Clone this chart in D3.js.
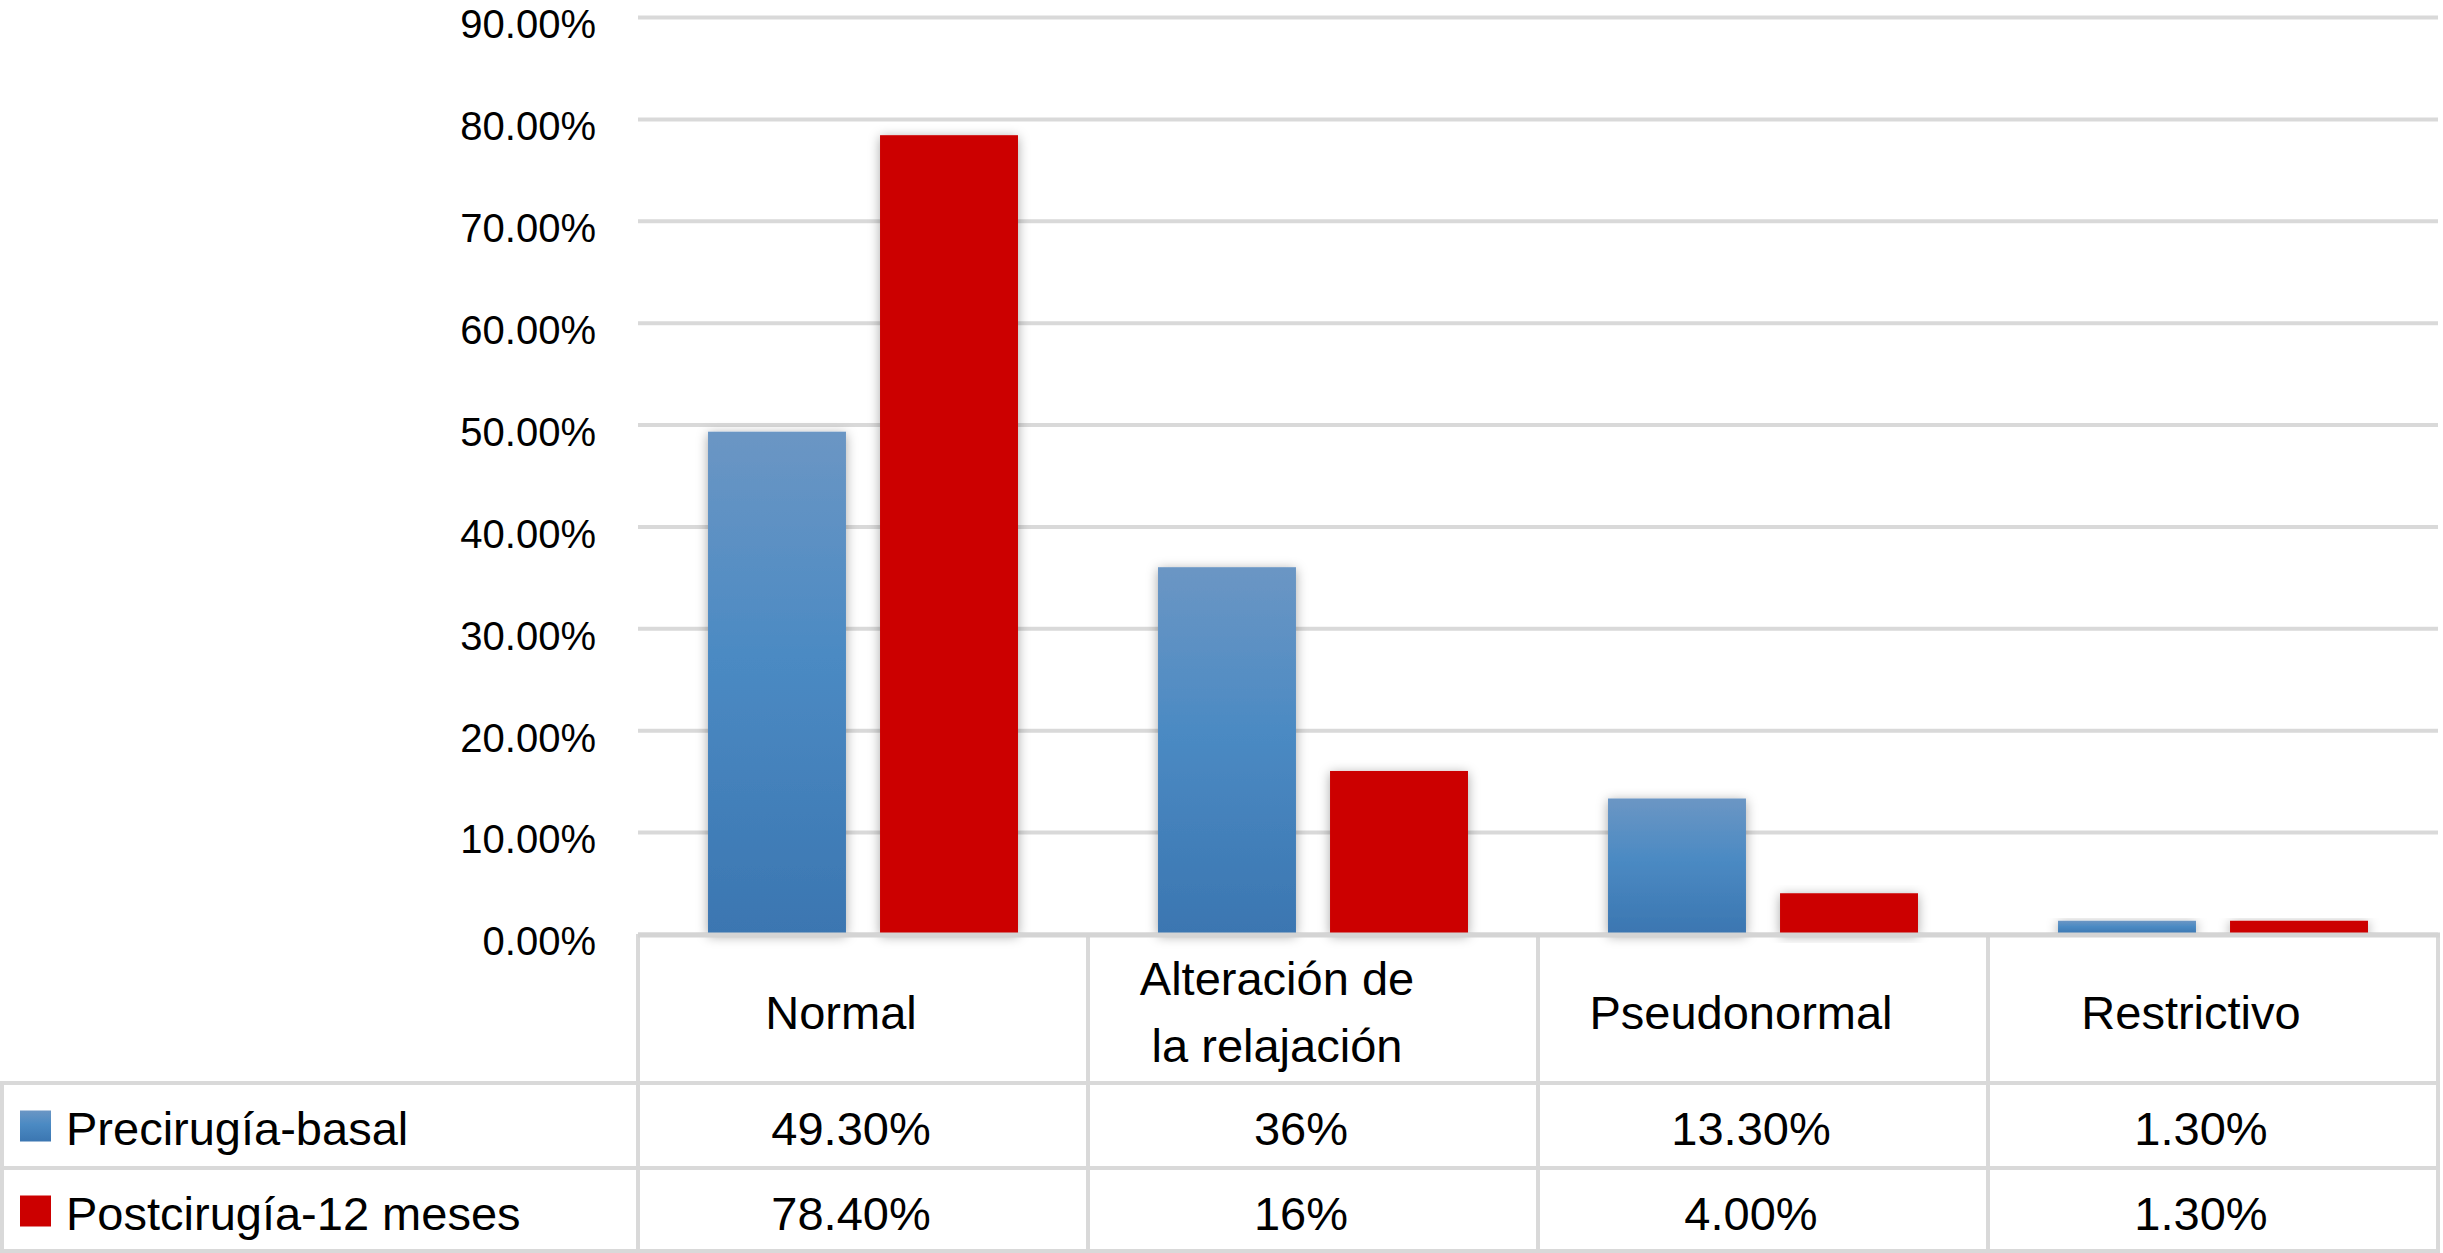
<!DOCTYPE html>
<html>
<head>
<meta charset="utf-8">
<script src="https://cdn.jsdelivr.net/npm/d3@7"></script>
<style>
    body { margin: 0; background: #fff; }
    text { font-family: "Liberation Sans", Arial, Helvetica, sans-serif; fill: #000; }
</style>
</head>
<body>
<script>
// chart data
var categories = ['Normal', 'Alteración de la relajación', 'Pseudonormal', 'Restrictivo'];
var categoryLines = [['Normal'], ['Alteración de', 'la relajación'], ['Pseudonormal'], ['Restrictivo']];
var seriesNames = ['Precirugía-basal', 'Postcirugía-12 meses'];
var preValues = [49.3, 36, 13.3, 1.3];
var postValues = [78.4, 16, 4.0, 1.3];
var preLabels = ['49.30%', '36%', '13.30%', '1.30%'];
var postLabels = ['78.40%', '16%', '4.00%', '1.30%'];
var yTicks = [0, 10, 20, 30, 40, 50, 60, 70, 80, 90];

function drawChart() {
    var W = 2443, H = 1253;
    var plotLeft = 638, plotRight = 2438;
    var yBottom = 934, yTop = 17;
    var headerBottom = 1083, rowH = 85;
    var blue = '#4a85bf', red = '#cc0000', gridColor = '#d9d9d9';

    var svg = d3.select('body').append('svg')
        .attr('width', W)
        .attr('height', H);

    var defs = svg.append('defs');
    var grad = defs.append('linearGradient')
        .attr('id', 'blueGrad')
        .attr('x1', 0).attr('y1', 0).attr('x2', 0).attr('y2', 1);
    grad.append('stop').attr('offset', '0%').attr('stop-color', '#6b96c4');
    grad.append('stop').attr('offset', '45%').attr('stop-color', '#4b8ac3');
    grad.append('stop').attr('offset', '100%').attr('stop-color', '#3b76b1');
    var shadow = defs.append('filter')
        .attr('id', 'shadow')
        .attr('x', '-20%').attr('y', '-20%').attr('width', '140%').attr('height', '140%');
    shadow.append('feDropShadow')
        .attr('dx', 0).attr('dy', 2)
        .attr('stdDeviation', 6)
        .attr('flood-color', '#000')
        .attr('flood-opacity', 0.35);

    var x0 = d3.scaleBand()
        .domain(categories)
        .range([plotLeft, plotRight])
        .paddingInner(0)
        .paddingOuter(0);
    var x1 = d3.scaleBand()
        .domain(seriesNames)
        .range([0, x0.bandwidth()])
        .paddingInner(0.198)
        .paddingOuter(0.407);
    var y = d3.scaleLinear()
        .domain([0, 90])
        .range([yBottom, yTop]);

    // gridlines + tick labels
    var yAxis = d3.axisLeft(y)
        .tickValues(yTicks)
        .tickSize(-(plotRight - plotLeft))
        .tickPadding(42)
        .tickFormat(function (d) { return d3.format('.2%')(d / 100); });
    var gAxis = svg.append('g')
        .attr('transform', 'translate(' + plotLeft + ',0)')
        .call(yAxis);
    gAxis.select('.domain').remove();
    gAxis.selectAll('.tick line')
        .attr('stroke', gridColor)
        .attr('stroke-width', 4);
    gAxis.selectAll('.tick text')
        .attr('dy', '0.52em')
        .style('font-size', '40px')
        .style('font-family', '"Liberation Sans", Arial, Helvetica, sans-serif')
        .attr('fill', '#000');

    // table grid
    var table = svg.append('g');
    var colEdges = categories.map(function (c) { return x0(c); }).concat([plotRight]);
    // vertical lines of category columns
    table.selectAll('.vline')
        .data(colEdges)
        .enter().append('line')
        .attr('x1', function (d) { return d; })
        .attr('x2', function (d) { return d; })
        .attr('y1', yBottom)
        .attr('y2', headerBottom + 2 * rowH)
        .attr('stroke', gridColor)
        .attr('stroke-width', 4);
    // left border of legend rows
    table.append('line')
        .attr('x1', 2).attr('x2', 2)
        .attr('y1', headerBottom).attr('y2', headerBottom + 2 * rowH)
        .attr('stroke', gridColor).attr('stroke-width', 4);
    // horizontal lines
    table.selectAll('.hline')
        .data([headerBottom, headerBottom + rowH, headerBottom + 2 * rowH - 2])
        .enter().append('line')
        .attr('x1', 0)
        .attr('x2', plotRight + 2)
        .attr('y1', function (d) { return d; })
        .attr('y2', function (d) { return d; })
        .attr('stroke', gridColor)
        .attr('stroke-width', 4);

    // header labels
    var headerMid = (yBottom + headerBottom) / 2;
    var lineGap = 67;
    categories.forEach(function (c, i) {
        var lines = categoryLines[i];
        var cx = x0(c) + x0.bandwidth() / 2 - (lines.length > 1 ? 36 : 22);
        var t = table.append('text')
            .attr('text-anchor', 'middle')
            .style('font-size', '47px');
        lines.forEach(function (ln, j) {
            t.append('tspan')
                .attr('x', cx)
                .attr('y', headerMid + (j - (lines.length - 1) / 2) * lineGap + 20)
                .text(ln);
        });
    });

    // legend rows + values
    var rows = [
        {name: seriesNames[0], color: blue, fill: 'url(#blueGrad)', labels: preLabels},
        {name: seriesNames[1], color: red, fill: red, labels: postLabels}
    ];
    rows.forEach(function (r, i) {
        var top = headerBottom + i * rowH;
        var mid = top + rowH / 2;
        table.append('rect')
            .attr('x', 20)
            .attr('y', mid - 15)
            .attr('width', 31)
            .attr('height', 31)
            .attr('fill', r.fill);
        table.append('text')
            .attr('x', 66)
            .attr('y', mid + 19)
            .style('font-size', '47px')
            .text(r.name);
        table.selectAll('.val' + i)
            .data(r.labels)
            .enter().append('text')
            .attr('x', function (d, k) { return x0(categories[k]) + x0.bandwidth() / 2 - 12; })
            .attr('y', mid + 19)
            .attr('text-anchor', 'middle')
            .style('font-size', '47px')
            .text(function (d) { return d; });
    });

    // bars
    var barData = [];
    categories.forEach(function (c, i) {
        barData.push({cat: c, series: seriesNames[0], value: preValues[i], fill: 'url(#blueGrad)'});
        barData.push({cat: c, series: seriesNames[1], value: postValues[i], fill: red});
    });
    svg.append('g')
        .selectAll('rect')
        .data(barData)
        .enter().append('rect')
        .attr('x', function (d) { return x0(d.cat) + x1(d.series); })
        .attr('y', function (d) { return y(d.value); })
        .attr('width', x1.bandwidth())
        .attr('height', function (d) { return y(0) - y(d.value); })
        .attr('fill', function (d) { return d.fill; })
        .attr('filter', 'url(#shadow)');

    // baseline
    svg.append('line')
        .attr('x1', plotLeft)
        .attr('x2', plotRight + 2)
        .attr('y1', y(0) + 1)
        .attr('y2', y(0) + 1)
        .attr('stroke', '#d4d4d4')
        .attr('stroke-width', 5);
}

drawChart();
</script>
</body>
</html>
